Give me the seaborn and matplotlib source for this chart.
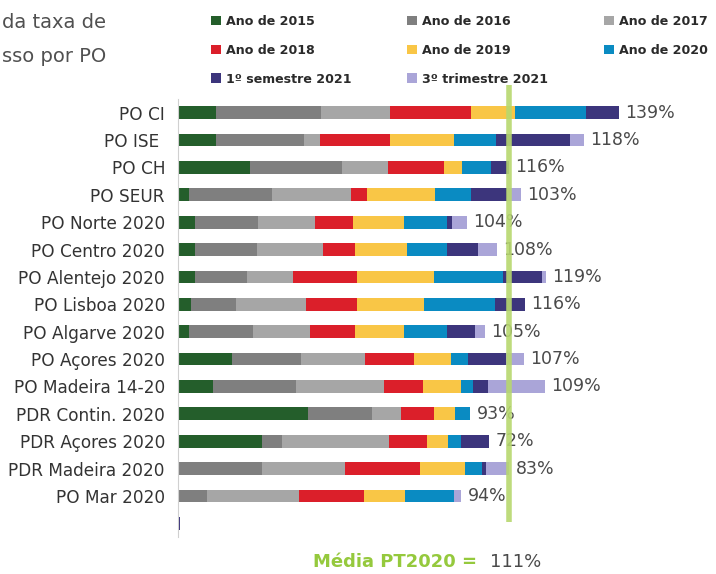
import numpy as np
import pandas as pd
import matplotlib.pyplot as plt
import seaborn as sns
from matplotlib.patches import Patch

# ── dados (largura de cada segmento) ──
programas = ['PO CI', 'PO ISE ', 'PO CH', 'PO SEUR', 'PO Norte 2020',
             'PO Centro 2020', 'PO Alentejo 2020', 'PO Lisboa 2020',
             'PO Algarve 2020', 'PO Açores 2020', 'PO Madeira 14-20',
             'PDR Contin. 2020', 'PDR Açores 2020', 'PDR Madeira 2020',
             'PO Mar 2020', '']

ano_2015 = [38, 38, 72, 11, 17, 17, 17, 13, 11, 54, 35, 130, 84, 0, 0, 0]
ano_2016 = [105, 88, 92, 83, 63, 62, 52, 45, 64, 69, 83, 64, 20, 84, 29, 0]
ano_2017 = [69, 16, 46, 79, 57, 66, 46, 70, 57, 64, 88, 29, 107, 83, 92, 0]
ano_2018 = [81, 70, 56, 16, 38, 32, 64, 51, 45, 49, 39, 33, 38, 75, 65, 0]
ano_2019 = [44, 64, 18, 68, 51, 52, 77, 67, 49, 37, 38, 21, 21, 45, 41, 0]
ano_2020 = [71, 42, 29, 36, 43, 40, 69, 71, 43, 17, 12, 15, 13, 17, 49, 0]
sem1_2021 = [33, 74, 18, 36, 5, 31, 39, 30, 28, 38, 15, 0, 28, 4, 0, 2.5]
tri3_2021 = [0, 14, 0, 14, 15, 19, 4, 0, 10, 18, 57, 0, 0, 23, 7, 0]

taxas = ['139%', '118%', '116%', '103%', '104%', '108%', '119%', '116%',
         '105%', '107%', '109%', '93%', '72%', '83%', '94%', '']

media_pos = 331.5   # posição da linha "Média PT2020"

series = ['Ano de 2015', 'Ano de 2016', 'Ano de 2017', 'Ano de 2018',
          'Ano de 2019', 'Ano de 2020', '1º semestre 2021', '3º trimestre 2021']
valores = [ano_2015, ano_2016, ano_2017, ano_2018,
           ano_2019, ano_2020, sem1_2021, tri3_2021]
cores = ['#245e2b', '#7f7f7f', '#a6a6a6', '#db1f2a',
         '#f9c646', '#0a8bc2', '#3c357c', '#aaa5d8']

df = pd.DataFrame(dict(zip(series, valores)), index=programas)
cum = df.cumsum(axis=1)

# ── figura ──
sns.set_style('white')
plt.rcParams['font.family'] = ['DejaVu Sans']

fig = plt.figure(figsize=(7.16, 5.74), dpi=100)
ax = fig.add_axes([177.5 / 716, 1 - 537 / 574, 1 - 177.5 / 716, 438 / 574])

# barras empilhadas: desenhar da soma total para a primeira série
for s, c in reversed(list(zip(series, cores))):
    sns.barplot(x=cum[s].values, y=programas, orient='h', color=c,
                width=0.47, ax=ax, linewidth=0, saturation=1)

# rótulos com a taxa
totais = cum.iloc[:, -1].values
for i, (t, txt) in enumerate(zip(totais, taxas)):
    if txt:
        ax.text(t + 7, i, txt, va='center', ha='left',
                fontsize=12.5, color='#4a4a4a')

# linha da média
ax.vlines(media_pos, -1.0, 14.95, color='#b7d86e', linewidth=4,
          alpha=0.9, clip_on=False, zorder=5)

ax.set_xlim(0, 538.5)
ax.set_ylim(15.5, -0.5)
ax.set_xticks([])
ax.set_xlabel('')
ax.set_ylabel('')
ax.set_yticks(np.arange(-0.5, 16, 1), minor=True)
ax.tick_params(axis='y', which='major', length=0, pad=9,
               labelsize=12.2, labelcolor='#333333')
ax.tick_params(axis='y', which='minor', length=4, color='#d0d0d0', width=1)
for sp in ['top', 'right', 'bottom']:
    ax.spines[sp].set_visible(False)
ax.spines['left'].set_color('#d0d0d0')

# legenda (3 colunas, preenchida por linhas)
handles = [Patch(facecolor=c, edgecolor='none') for c in cores]
ordem = [0, 3, 6, 1, 4, 7, 2, 5]
leg = fig.legend([handles[k] for k in ordem], [series[k] for k in ordem],
                 ncol=3, loc='upper left', bbox_to_anchor=(211 / 716, 1 - 15 / 574),
                 frameon=False, borderpad=0, borderaxespad=0,
                 handlelength=0.8, handleheight=0.8, handletextpad=0.4,
                 labelspacing=1.25, columnspacing=4.4,
                 prop={'size': 9.1, 'weight': 'bold'})
for t in leg.get_texts():
    t.set_color('#2a2a2a')

# título (cortado na imagem original)
fig.text(0.003, 1 - 22 / 574, 'da taxa de', fontsize=14, color='#505050',
         va='center', ha='left')
fig.text(0.003, 1 - 57 / 574, 'sso por PO', fontsize=14, color='#505050',
         va='center', ha='left')

# média PT2020
fig.text(313 / 716, 1 - 562 / 574, 'Média PT2020 =', fontsize=13,
         fontweight='bold', color='#95c93d', va='center', ha='left')
fig.text(490 / 716, 1 - 562 / 574, '111%', fontsize=13,
         color='#4a4a4a', va='center', ha='left')

plt.savefig('out.png', dpi=100)
